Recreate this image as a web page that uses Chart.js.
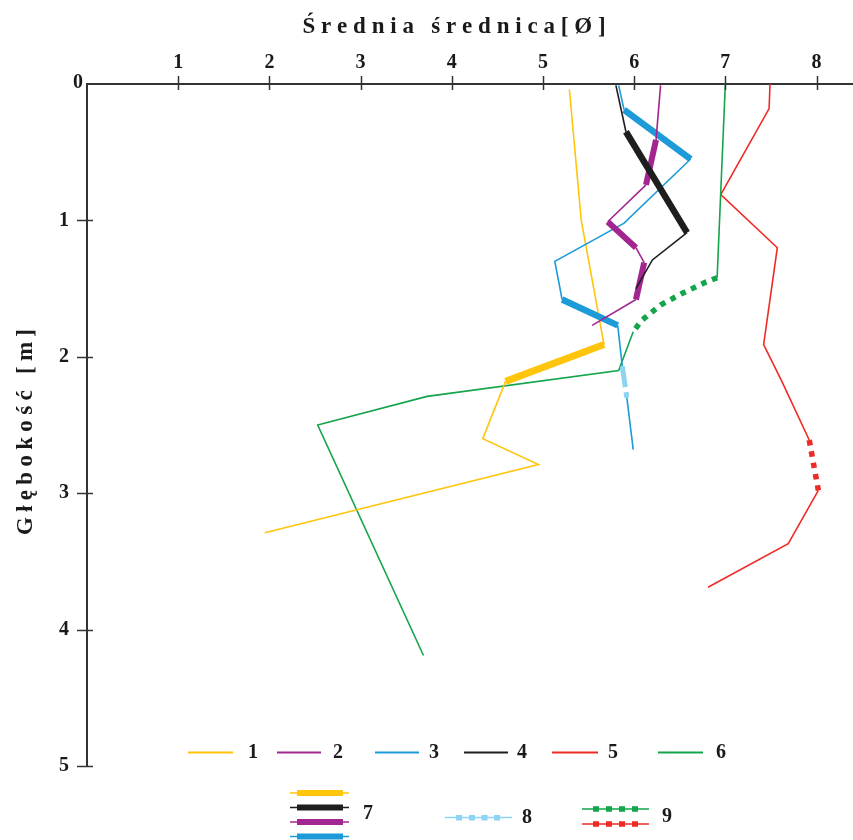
<!DOCTYPE html>
<html>
<head>
<meta charset="utf-8">
<script src="https://cdn.jsdelivr.net/npm/chart.js@4/dist/chart.umd.min.js"></script>
<style>
  html, body { margin: 0; padding: 0; background: #ffffff; }
  #c { display: block; }
</style>
</head>
<body>
<canvas id="c" width="853" height="840"></canvas>
<script>
// ---------------- DATA ----------------
const xTitle = 'Średnia średnica[Ø]';
const yTitle = 'Głębokość [m]';
const xTicks = [0, 1, 2, 3, 4, 5, 6, 7, 8];
const yTicks = [0, 1, 2, 3, 4, 5];

// segment kinds: t = thin (1-6), T = thick (7), L = light dashed (8), d = dotted (9)
const s1Diam  = [5.29, 5.42, 5.67, 4.59, 4.34, 4.95, 1.95];
const s1Depth = [0.04, 1.00, 1.91, 2.18, 2.60, 2.79, 3.29];
const s1Seg   = ['t', 't', 'T', 't', 't', 't'];

const s2Diam  = [6.29, 6.24, 6.13, 5.71, 6.02, 6.11, 6.02, 5.54];
const s2Depth = [0.01, 0.41, 0.74, 1.01, 1.20, 1.31, 1.58, 1.77];
const s2Seg   = ['t', 'T', 't', 'T', 't', 'T', 't'];

const s3Diam  = [5.83, 5.89, 6.62, 5.89, 5.13, 5.21, 5.82, 5.87, 5.92, 5.99];
const s3Depth = [0.01, 0.19, 0.55, 1.02, 1.30, 1.58, 1.77, 2.07, 2.30, 2.68];
const s3Seg   = ['t', 'T', 't', 't', 't', 'T', 't', 'L', 't'];

const s4Diam  = [5.80, 5.91, 6.58, 6.20, 6.02];
const s4Depth = [0.01, 0.35, 1.09, 1.29, 1.50];
const s4Seg   = ['t', 'T', 't', 't'];

const s5Diam  = [7.49, 7.48, 6.95, 7.57, 7.42, 7.62, 7.92, 8.02, 7.69, 6.81];
const s5Depth = [0.00, 0.18, 0.81, 1.20, 1.91, 2.18, 2.61, 2.98, 3.37, 3.69];
const s5Seg   = ['t', 't', 't', 't', 't', 't', 'd', 't', 't'];

const s6Diam  = [7.00, 6.91, 6.78, 6.53, 6.29, 6.08, 5.99, 5.83, 3.73, 2.53, 3.69];
const s6Depth = [0.00, 1.42, 1.454, 1.534, 1.62, 1.735, 1.816, 2.10, 2.29, 2.50, 4.19];
const s6Seg   = ['t', 'd', 'd', 'd', 'd', 'd', 't', 't', 't', 't'];

const legendRow1 = ['1', '2', '3', '4', '5', '6'];
const legendRow2 = ['7', '8', '9'];

// ---------------- STYLE ----------------
const COL = {
  yellow: '#FFC40C', purple: '#A2268F', blue: '#1D9BD8', black: '#1E1E1E',
  red: '#EE2B24', green: '#14A44C', light: '#8CD3F4', axis: '#333333', text: '#1a1a1a'
};
const SERIF = '"Liberation Serif", "DejaVu Serif", serif';

function makeSet(diam, depth, segs, color, thick) {
  return {
    data: diam.map((v, i) => ({ x: v, y: depth[i] })),
    borderColor: color,
    borderWidth: 1.6,
    pointRadius: 0,
    fill: false,
    tension: 0,
    borderCapStyle: 'butt',
    borderJoinStyle: 'miter',
    segment: {
      borderWidth: c => {
        const k = segs[c.p0DataIndex];
        return k === 'T' ? thick : k === 'L' ? 5 : k === 'd' ? 5.5 : 1.6;
      },
      borderColor: c => segs[c.p0DataIndex] === 'L' ? COL.light : color,
      borderDash: c => {
        const k = segs[c.p0DataIndex];
        return k === 'L' ? [21, 5] : k === 'd' ? [5.5, 6] : [];
      }
    }
  };
}

const datasets = [
  makeSet(s4Diam, s4Depth, s4Seg, COL.black, 6.5),
  makeSet(s2Diam, s2Depth, s2Seg, COL.purple, 6),
  makeSet(s3Diam, s3Depth, s3Seg, COL.blue, 6.5),
  makeSet(s1Diam, s1Depth, s1Seg, COL.yellow, 7),
  makeSet(s6Diam, s6Depth, s6Seg, COL.green, 5.5),
  makeSet(s5Diam, s5Depth, s5Seg, COL.red, 6)
];

function spacedText(c, text, cx, y, spacing) {
  const chars = Array.from(text);
  const w = chars.map(ch => c.measureText(ch).width);
  const total = w.reduce((a, b) => a + b, 0) + spacing * (chars.length - 1);
  let x = cx - total / 2;
  c.textAlign = 'left';
  chars.forEach((ch, i) => { c.fillText(ch, x, y); x += w[i] + spacing; });
}

function hline(c, x1, x2, y, w, color) {
  c.beginPath(); c.strokeStyle = color; c.lineWidth = w; c.lineCap = 'butt';
  c.moveTo(x1, y); c.lineTo(x2, y); c.stroke();
}

const decor = {
  id: 'decor',
  afterDraw(chart) {
    const c = chart.ctx, xs = chart.scales.x, ys = chart.scales.y;
    const top = chart.chartArea.top, left = chart.chartArea.left;
    c.save();
    // tick marks crossing the axes
    c.strokeStyle = COL.axis; c.lineWidth = 1.5;
    xTicks.forEach(v => {
      if (v === 0) return;
      const px = Math.round(xs.getPixelForValue(v)) + 0.5;
      c.beginPath(); c.moveTo(px, top - 8); c.lineTo(px, top + 6); c.stroke();
    });
    yTicks.forEach(v => {
      if (v === 0) return;
      const py = Math.round(ys.getPixelForValue(v)) + 0.5;
      c.beginPath(); c.moveTo(left - 10, py); c.lineTo(left + 6, py); c.stroke();
    });
    // origin label
    c.fillStyle = COL.text;
    c.font = 'bold 20px ' + SERIF;
    c.textAlign = 'right'; c.textBaseline = 'alphabetic';
    c.fillText(String(xTicks[0]), left - 4, top + 4);

    // titles
    c.font = 'bold 23px ' + SERIF;
    c.textBaseline = 'alphabetic';
    spacedText(c, xTitle, 454, 33, 5.8);
    c.save();
    c.translate(32, 432);
    c.rotate(-Math.PI / 2);
    spacedText(c, yTitle, 0, 0, 5.3);
    c.restore();

    // legend row 1
    const row1 = [
      [188, 233, COL.yellow, 253], [277, 321, COL.purple, 338], [375, 419, COL.blue, 434],
      [464, 508, COL.black, 522], [552, 598, COL.red, 613], [658, 703, COL.green, 721]
    ];
    c.font = 'bold 20px ' + SERIF;
    c.textBaseline = 'middle'; c.textAlign = 'center';
    row1.forEach((r, i) => {
      hline(c, r[0], r[1], 752.5, 1.8, r[2]);
      c.fillStyle = COL.text;
      c.fillText(legendRow1[i], r[3], 753);
    });

    // legend row 2: thick bars (7)
    [[793, COL.yellow], [807.5, COL.black], [822, COL.purple], [836.5, COL.blue]].forEach(b => {
      hline(c, 290, 349, b[0], 1.6, b[1]);
      hline(c, 297, 343, b[0], 6, b[1]);
    });
    c.fillStyle = COL.text;
    c.fillText(legendRow2[0], 368, 814);

    // 8: light blue dashed
    hline(c, 445, 512, 817.5, 1.6, COL.light);
    [459, 472, 484.5, 497].forEach(x => { c.fillStyle = COL.light; c.fillRect(x - 3, 815, 6, 5.5); });
    c.fillStyle = COL.text;
    c.fillText(legendRow2[1], 527, 818);

    // 9: dotted green and red
    [[809, COL.green], [824, COL.red]].forEach(r => {
      hline(c, 582, 649, r[0], 1.6, r[1]);
      [596, 609, 622, 635].forEach(x => { c.fillStyle = r[1]; c.fillRect(x - 3, r[0] - 2.75, 6, 5.5); });
    });
    c.fillStyle = COL.text;
    c.fillText(legendRow2[2], 667, 817);
    c.restore();
  }
};

const tickFont = { family: SERIF, size: 20, weight: 'bold' };

new Chart(document.getElementById('c'), {
  type: 'line',
  data: { datasets },
  options: {
    responsive: false,
    animation: false,
    events: [],
    layout: { padding: { left: 0, top: 0, right: 0, bottom: 74 } },
    plugins: { legend: { display: false }, tooltip: { enabled: false }, title: { display: false } },
    scales: {
      x: {
        type: 'linear', position: 'top', min: 0, max: 8.4,
        afterFit: s => { s.height = 84; },
        afterBuildTicks: s => { s.ticks = xTicks.map(v => ({ value: v })); },
        ticks: {
          callback: v => (v === 0 ? '' : String(v)),
          font: tickFont, color: COL.text, padding: 9, maxRotation: 0, autoSkip: false
        },
        grid: { display: false, drawTicks: false, drawOnChartArea: false },
        border: { display: true, color: COL.axis, width: 2 }
      },
      y: {
        type: 'linear', position: 'left', reverse: true, min: 0, max: 5,
        afterFit: s => { s.width = 87; },
        afterBuildTicks: s => { s.ticks = yTicks.map(v => ({ value: v })); },
        ticks: {
          callback: v => (v === 0 ? '' : String(v)),
          font: tickFont, color: COL.text, padding: 18, autoSkip: false
        },
        grid: { display: false, drawTicks: false, drawOnChartArea: false },
        border: { display: true, color: COL.axis, width: 2 }
      }
    }
  },
  plugins: [decor]
});
</script>
</body>
</html>
